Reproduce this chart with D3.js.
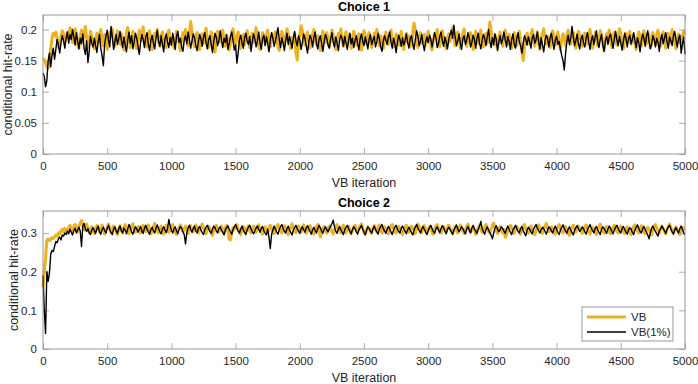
<!DOCTYPE html>
<html><head><meta charset="utf-8">
<script src="https://cdn.jsdelivr.net/npm/d3@7"></script>
<style>body{margin:0;background:#fff}svg{display:block}text{font-family:"Liberation Sans",Arial,Helvetica,sans-serif}</style>
</head><body><svg id="c" width="698" height="384"></svg>
<script>
const iterStep = 10;
const iterMax = 5000;
const titles = ["Choice 1", "Choice 2"];
const seriesNames = ["VB", "VB(1%)"];
const yTicks1 = [0, 0.05, 0.1, 0.15, 0.2];
const yTicks2 = [0, 0.1, 0.2, 0.3];
const xTicks = [0, 500, 1000, 1500, 2000, 2500, 3000, 3500, 4000, 4500, 5000];

const vb1 = [
.150,.152,.146,.140,.138,.150,.170,.185,.194,.190,.196,.185,.172,.178,.190,.198,.193,.180,.186,.195,
.188,.203,.197,.179,.184,.201,.193,.176,.170,.189,.199,.182,.191,.205,.186,.172,.181,.197,.188,.177,
.169,.185,.194,.178,.190,.200,.183,.174,.192,.186,.168,.179,.196,.189,.201,.180,.173,.187,.198,.184,
.176,.193,.181,.167,.178,.195,.203,.188,.171,.184,.197,.190,.175,.169,.186,.199,.182,.192,.204,.179,
.185,.172,.189,.198,.183,.168,.177,.194,.187,.200,.181,.173,.190,.196,.178,.186,.171,.193,.199,.184,
.176,.188,.170,.182,.197,.191,.179,.166,.185,.195,.183,.200,.187,.174,.192,.213,.198,.180,.172,.189,
.195,.181,.168,.186,.193,.177,.190,.202,.184,.171,.179,.196,.188,.175,.164,.183,.197,.191,.180,.187,
.199,.185,.173,.190,.182,.167,.178,.194,.201,.186,.176,.189,.196,.180,.170,.184,.192,.175,.188,.198,
.183,.171,.187,.194,.179,.190,.203,.185,.174,.168,.182,.195,.189,.177,.191,.199,.184,.172,.186,.193,
.180,.196,.188,.173,.166,.182,.197,.190,.176,.185,.201,.192,.178,.169,.187,.181,.194,.162,.151,.178,
.192,.206,.198,.184,.175,.189,.196,.181,.170,.186,.193,.200,.183,.177,.190,.174,.166,.185,.197,.188,
.179,.195,.186,.172,.184,.199,.191,.176,.168,.183,.194,.187,.201,.181,.173,.189,.196,.178,.185,.192,
.170,.182,.197,.189,.175,.186,.193,.180,.167,.184,.198,.190,.177,.188,.195,.182,.171,.179,.194,.186,
.200,.185,.174,.190,.181,.169,.187,.196,.183,.176,.192,.199,.184,.172,.180,.193,.188,.175,.186,.197,
.181,.168,.185,.194,.179,.190,.182,.173,.196,.210,.199,.184,.171,.188,.195,.178,.186,.192,.175,.183,
.197,.189,.176,.167,.183,.194,.186,.200,.181,.172,.190,.198,.185,.177,.169,.186,.193,.180,.191,.203,
.187,.174,.182,.196,.189,.170,.178,.194,.201,.184,.173,.188,.180,.195,.186,.168,.182,.197,.190,.177,
.185,.199,.181,.172,.189,.194,.178,.186,.212,.198,.183,.175,.191,.180,.169,.187,.196,.184,.173,.190,
.199,.183,.176,.192,.186,.170,.181,.195,.188,.174,.190,.197,.179,.165,.150,.172,.189,.194,.182,.177,
.191,.200,.186,.173,.184,.196,.179,.168,.187,.193,.201,.185,.176,.189,.182,.171,.190,.198,.183,.175,
.188,.196,.180,.167,.184,.193,.186,.174,.191,.199,.182,.176,.188,.195,.179,.170,.185,.197,.190,.181,
.173,.189,.194,.183,.177,.192,.200,.186,.170,.180,.195,.188,.174,.185,.198,.191,.178,.166,.184,.193,
.187,.199,.182,.171,.190,.196,.184,.175,.188,.201,.193,.179,.169,.186,.194,.181,.189,.197,.176,.183,
.192,.178,.168,.185,.196,.189,.174,.182,.198,.190,.177,.186,.193,.171,.180,.195,.187,.175,.191,.199,
.184,.173,.189,.196,.181,.170,.187,.194,.178,.186,.200,.192,.179,.169,.185,.193,.182,.176,.190,.197,
.192];

const vb1pct1 = [
.130,.125,.108,.118,.150,.162,.140,.158,.170,.152,.168,.184,.175,.162,.178,.190,.182,.170,.186,.196,
.178,.192,.184,.200,.188,.175,.195,.181,.169,.186,.177,.193,.170,.160,.182,.147,.165,.189,.178,.172,
.186,.174,.163,.181,.192,.170,.158,.142,.176,.189,.199,.183,.172,.205,.187,.168,.180,.192,.176,.185,
.197,.183,.171,.188,.175,.164,.183,.196,.178,.190,.169,.181,.194,.186,.173,.160,.179,.192,.184,.171,
.188,.195,.177,.166,.183,.191,.178,.169,.186,.199,.181,.173,.190,.176,.164,.185,.193,.180,.171,.187,
.175,.194,.182,.168,.189,.197,.179,.186,.172,.165,.183,.190,.177,.196,.184,.170,.181,.193,.187,.175,
.166,.180,.192,.185,.173,.188,.195,.178,.169,.184,.190,.176,.163,.181,.194,.187,.174,.182,.198,.183,
.171,.186,.179,.192,.168,.177,.189,.196,.182,.167,.175,.146,.162,.184,.191,.178,.170,.187,.194,.181,
.176,.189,.165,.180,.193,.185,.172,.182,.196,.179,.168,.185,.191,.174,.188,.177,.164,.183,.195,.186,
.173,.181,.192,.203,.184,.171,.187,.178,.166,.182,.194,.176,.189,.180,.170,.186,.197,.181,.174,.190,
.183,.168,.179,.193,.186,.174,.162,.180,.191,.185,.172,.188,.196,.177,.169,.184,.190,.178,.165,.181,
.192,.186,.175,.170,.184,.195,.180,.172,.188,.179,.166,.183,.191,.185,.173,.189,.178,.168,.182,.194,
.177,.186,.171,.182,.190,.178,.167,.185,.193,.181,.174,.188,.179,.169,.184,.192,.176,.183,.189,.172,
.180,.194,.185,.172,.165,.181,.190,.183,.176,.188,.196,.180,.170,.186,.178,.163,.179,.191,.184,.173,
.187,.175,.182,.193,.179,.170,.186,.190,.177,.168,.184,.198,.189,.174,.181,.192,.176,.166,.180,.188,
.179,.191,.185,.172,.183,.195,.187,.171,.177,.189,.196,.182,.173,.188,.180,.169,.184,.192,.199,.186,
.207,.188,.174,.181,.193,.178,.168,.185,.190,.176,.183,.195,.187,.172,.179,.191,.184,.170,.186,.194,
.178,.169,.183,.192,.186,.174,.188,.200,.181,.171,.187,.176,.193,.184,.166,.180,.190,.177,.185,.196,
.183,.172,.189,.181,.168,.184,.193,.176,.170,.186,.195,.180,.174,.162,.178,.190,.184,.175,.188,.181,
.170,.186,.192,.178,.184,.196,.181,.169,.187,.175,.164,.182,.191,.185,.172,.188,.194,.179,.168,.183,
.189,.176,.181,.168,.158,.150,.135,.162,.180,.191,.176,.186,.205,.188,.174,.182,.193,.177,.169,.185,
.191,.178,.172,.186,.195,.181,.168,.183,.190,.176,.187,.198,.180,.171,.184,.192,.175,.165,.182,.189,
.176,.188,.193,.180,.170,.185,.197,.183,.174,.189,.178,.167,.181,.194,.186,.172,.185,.191,.177,.184,
.195,.182,.171,.187,.179,.164,.182,.193,.186,.173,.189,.198,.181,.169,.176,.190,.184,.172,.186,.179,
.165,.183,.192,.177,.186,.195,.180,.170,.188,.182,.174,.190,.197,.183,.172,.185,.191,.162,.176,.188,
.160];

const vb2 = [
.160,.200,.235,.282,.285,.280,.283,.288,.286,.290,.295,.292,.300,.298,.306,.310,.303,.312,.308,.300,
.315,.320,.310,.305,.316,.322,.312,.303,.318,.326,.332,.320,.308,.314,.323,.311,.302,.309,.317,.305,
.299,.312,.320,.315,.303,.310,.321,.308,.297,.306,.316,.323,.313,.301,.309,.318,.312,.304,.296,.311,
.319,.307,.300,.314,.322,.316,.305,.298,.310,.318,.324,.311,.302,.308,.317,.313,.300,.306,.320,.315,
.304,.311,.321,.309,.298,.303,.316,.325,.314,.305,.300,.312,.318,.308,.297,.310,.320,.313,.302,.309,
.317,.322,.310,.301,.296,.308,.315,.321,.312,.304,.310,.318,.306,.299,.313,.319,.309,.303,.315,.321,
.311,.300,.307,.316,.323,.313,.305,.298,.309,.317,.312,.302,.294,.306,.315,.320,.310,.303,.312,.318,
.308,.299,.313,.320,.305,.284,.282,.300,.314,.309,.316,.322,.311,.303,.296,.308,.317,.313,.304,.310,
.319,.306,.300,.312,.318,.309,.302,.315,.321,.313,.305,.297,.310,.316,.308,.301,.314,.320,.311,.304,
.298,.309,.317,.322,.312,.306,.300,.311,.319,.313,.303,.296,.307,.315,.324,.314,.305,.301,.312,.318,
.310,.302,.316,.321,.309,.300,.306,.314,.319,.311,.304,.297,.308,.316,.322,.313,.290,.303,.312,.317,
.307,.300,.311,.318,.313,.304,.298,.309,.316,.322,.312,.305,.300,.314,.320,.308,.301,.310,.317,.306,
.298,.306,.315,.320,.311,.303,.309,.318,.324,.313,.302,.296,.308,.316,.311,.305,.299,.312,.319,.310,
.303,.314,.321,.309,.300,.307,.316,.312,.304,.298,.311,.318,.322,.313,.305,.300,.309,.317,.312,.303,
.296,.308,.315,.320,.311,.302,.310,.318,.313,.305,.299,.312,.323,.316,.307,.301,.313,.319,.309,.300,
.307,.316,.311,.303,.297,.309,.318,.322,.312,.304,.300,.311,.317,.308,.302,.314,.320,.313,.305,.298,
.310,.316,.306,.300,.312,.321,.314,.305,.299,.308,.317,.323,.311,.303,.309,.315,.306,.296,.304,.313,
.319,.311,.302,.308,.316,.322,.312,.304,.300,.311,.318,.326,.314,.305,.299,.310,.316,.307,.300,.309,
.289,.296,.308,.315,.320,.312,.305,.299,.310,.317,.313,.303,.297,.309,.316,.322,.311,.304,.300,.312,
.318,.309,.302,.296,.307,.315,.321,.313,.305,.299,.311,.318,.325,.312,.304,.308,.316,.310,.302,.297,
.309,.316,.322,.312,.305,.300,.311,.317,.308,.301,.294,.306,.314,.320,.311,.303,.310,.318,.312,.305,
.299,.308,.316,.321,.313,.304,.297,.309,.315,.311,.302,.296,.307,.318,.323,.312,.305,.300,.311,.317,
.310,.303,.298,.309,.315,.320,.311,.304,.300,.312,.318,.313,.305,.299,.308,.316,.311,.302,.296,.309,
.317,.321,.312,.305,.300,.311,.319,.314,.303,.298,.309,.315,.310,.301,.295,.307,.316,.322,.313,.306,
.300,.311,.318,.312,.304,.298,.309,.317,.323,.313,.305,.300,.311,.316,.308,.301,.296,.308,.315,.311,
.314];

const vb1pct2 = [
.190,.100,.040,.200,.175,.195,.245,.255,.252,.265,.278,.275,.285,.290,.282,.295,.292,.300,.296,.305,
.298,.310,.302,.295,.306,.312,.300,.308,.315,.305,.265,.318,.325,.310,.304,.312,.300,.296,.308,.314,
.306,.299,.311,.318,.303,.297,.309,.315,.306,.300,.312,.320,.308,.301,.296,.310,.316,.305,.299,.311,
.318,.306,.300,.313,.307,.298,.310,.322,.314,.303,.297,.308,.316,.311,.302,.309,.317,.305,.299,.312,
.320,.310,.303,.297,.309,.315,.306,.300,.313,.321,.311,.304,.298,.310,.316,.308,.301,.312,.335,.318,
.307,.300,.311,.316,.305,.298,.309,.317,.312,.303,.296,.272,.300,.314,.320,.309,.302,.311,.318,.306,
.300,.312,.317,.308,.301,.296,.309,.315,.320,.311,.304,.299,.310,.318,.313,.305,.300,.312,.316,.307,
.302,.295,.308,.314,.319,.310,.303,.297,.309,.316,.322,.312,.305,.300,.311,.318,.308,.301,.296,.309,
.315,.320,.311,.304,.298,.306,.313,.318,.309,.302,.312,.317,.306,.300,.295,.310,.289,.260,.296,.308,
.318,.310,.303,.297,.309,.316,.322,.312,.304,.300,.311,.318,.307,.301,.295,.308,.314,.320,.311,.305,
.299,.310,.316,.308,.302,.313,.319,.311,.304,.297,.309,.315,.306,.300,.312,.320,.313,.305,.299,.310,
.316,.309,.303,.311,.318,.324,.333,.316,.305,.299,.310,.317,.308,.302,.296,.309,.315,.320,.312,.304,
.298,.309,.316,.311,.303,.297,.308,.314,.320,.310,.302,.296,.307,.316,.312,.305,.300,.311,.318,.309,
.303,.297,.310,.316,.322,.312,.305,.299,.309,.317,.311,.303,.296,.308,.315,.320,.310,.304,.300,.312,
.318,.311,.305,.298,.309,.315,.307,.301,.295,.308,.316,.322,.313,.306,.300,.311,.317,.309,.302,.296,
.307,.314,.320,.312,.304,.299,.310,.316,.308,.301,.312,.319,.313,.305,.298,.309,.315,.310,.303,.297,
.308,.315,.321,.311,.303,.309,.316,.312,.304,.298,.310,.317,.307,.300,.313,.320,.311,.305,.299,.310,
.318,.330,.312,.303,.297,.309,.316,.308,.301,.295,.285,.300,.313,.319,.310,.303,.309,.316,.312,.305,
.299,.311,.318,.309,.302,.296,.308,.314,.320,.311,.304,.300,.312,.317,.306,.299,.293,.307,.315,.310,
.303,.298,.310,.316,.322,.313,.306,.300,.309,.315,.311,.304,.297,.308,.316,.312,.305,.300,.311,.318,
.309,.302,.296,.308,.315,.321,.312,.305,.299,.310,.316,.308,.301,.295,.307,.314,.319,.311,.304,.309,
.316,.311,.303,.297,.309,.315,.322,.313,.306,.300,.311,.317,.308,.302,.296,.310,.316,.312,.305,.299,
.310,.318,.312,.304,.298,.309,.315,.320,.311,.305,.300,.312,.317,.309,.303,.297,.308,.314,.310,.302,
.296,.308,.315,.321,.312,.304,.300,.311,.317,.309,.302,.295,.285,.300,.312,.318,.310,.304,.298,.292,
.305,.311,.318,.312,.306,.299,.309,.316,.320,.311,.303,.297,.308,.314,.306,.300,.312,.318,.309,.300,
.296];

const iterations = d3.range(0, iterMax + 1, iterStep);
const colorVB = "#EDB120", colorPct = "#000000";
const axisColor = "#262626", frameColor = "#8c8c8c";

const svg = d3.select("#c");
const left = 43, right = 685;
const x = d3.scaleLinear().domain([0, iterMax]).range([left, right]);

const panels = [
  {top: 15, bottom: 154, ymax: 0.2233, ticks: yTicks1, vb: vb1, pct: vb1pct1, title: titles[0], labelX: 8},
  {top: 211, bottom: 349, ymax: 0.357, ticks: yTicks2, vb: vb2, pct: vb1pct2, title: titles[1], labelX: 14}
];

panels.forEach((p, pi) => {
  const y = d3.scaleLinear().domain([0, p.ymax]).range([p.bottom, p.top]);
  const g = svg.append("g");
  const tickLen = 6;
  const fmt = d => String(d);
  const xa = g.append("g").attr("transform", `translate(0,${p.bottom})`)
    .call(d3.axisBottom(x).tickValues(xTicks).tickSize(-tickLen).tickPadding(8).tickFormat(d3.format("d")));
  const xt = g.append("g").attr("transform", `translate(0,${p.top})`)
    .call(d3.axisTop(x).tickValues(xTicks).tickSize(-tickLen).tickFormat(""));
  const ya = g.append("g").attr("transform", `translate(${left},0)`)
    .call(d3.axisLeft(y).tickValues(p.ticks).tickSize(-tickLen).tickPadding(6).tickFormat(fmt));
  const yr = g.append("g").attr("transform", `translate(${right},0)`)
    .call(d3.axisRight(y).tickValues(p.ticks).tickSize(-tickLen).tickFormat(""));
  [xa, xt, ya, yr].forEach(a => {
    a.select(".domain").remove();
    a.selectAll(".tick line").attr("stroke", frameColor).attr("stroke-width", 0.7);
    a.selectAll("text").attr("fill", axisColor).attr("font-size", 11.5);
  });
  const line = vals => d3.line().x((d, i) => x(iterations[i])).y(d => y(d))(vals);
  g.append("path").attr("d", line(p.vb)).attr("fill", "none").attr("stroke", colorVB)
    .attr("stroke-width", 3).attr("stroke-linejoin", "round");
  g.append("path").attr("d", line(p.pct)).attr("fill", "none").attr("stroke", colorPct)
    .attr("stroke-width", 1.4).attr("stroke-linejoin", "round");
  g.append("rect").attr("x", left).attr("y", p.top).attr("width", right - left).attr("height", p.bottom - p.top)
    .attr("fill", "none").attr("stroke", frameColor).attr("stroke-width", 0.9);
  g.append("text").attr("x", (left + right) / 2).attr("y", p.top - 4).attr("text-anchor", "middle")
    .attr("font-weight", "bold").attr("font-size", 12.5).attr("fill", "#000").text(p.title);
  g.append("text").attr("x", (left + right) / 2).attr("y", p.bottom + 33).attr("text-anchor", "middle")
    .attr("font-size", 12.5).attr("fill", axisColor).text("VB iteration");
  g.append("text").attr("transform", `translate(${p.labelX},${(p.top + p.bottom) / 2}) rotate(-90)`)
    .attr("text-anchor", "middle").attr("dominant-baseline", "central")
    .attr("font-size", 12.5).attr("fill", axisColor).text("conditional hit-rate");

  if (pi === 1) {
    const lg = g.append("g");
    lg.append("rect").attr("x", 582).attr("y", 307).attr("width", 91).attr("height", 34)
      .attr("fill", "#fff").attr("stroke", frameColor).attr("stroke-width", 0.9);
    const entries = [{name: seriesNames[0], c: colorVB, w: 3}, {name: seriesNames[1], c: colorPct, w: 1.4}];
    entries.forEach((e, k) => {
      const yy = 317 + k * 15;
      lg.append("line").attr("x1", 587).attr("x2", 626).attr("y1", yy).attr("y2", yy)
        .attr("stroke", e.c).attr("stroke-width", e.w);
      lg.append("text").attr("x", 631).attr("y", yy).attr("dominant-baseline", "central")
        .attr("font-size", 11.5).attr("fill", axisColor).text(e.name);
    });
  }
});
</script></body></html>
